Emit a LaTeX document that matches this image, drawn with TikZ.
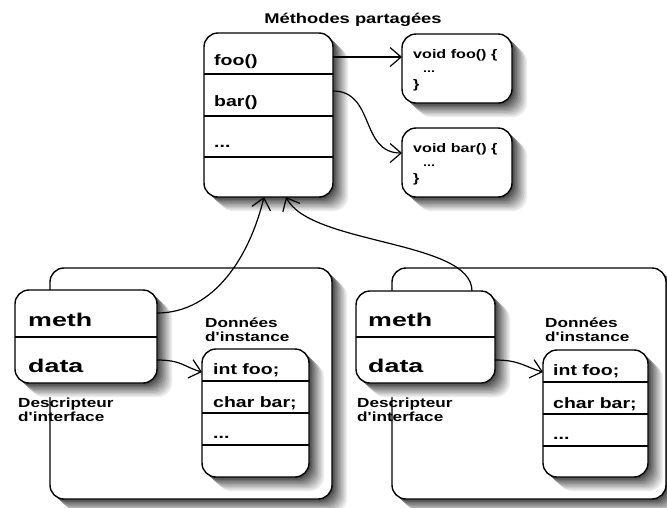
\documentclass[tikz,border=0pt]{standalone}
\usepackage{fontspec}
\setmainfont{Liberation Sans}
\newfontfamily\lbl[FakeStretch=1.3]{Liberation Sans}
\newfontfamily\lblwide[FakeStretch=1.45]{Liberation Sans}
\usetikzlibrary{arrows.meta}

% rounded box with a soft drop shadow: name, left, top, width, height
\newcommand\shadowedbox[5]{%
  \foreach \k [evaluate=\k as \shade using {int((11-\k)*7)}] in {10,9,...,1}
    \fill[black!\shade, rounded corners=14pt]
      ({#2+\k*1.5},{#3+\k*1.4}) rectangle ++(#4,#5);
  \node[box, minimum width=#4pt, minimum height=#5pt] (#1) at (#2,#3) {};}

\begin{document}
\begin{tikzpicture}[x=1pt,y=-1pt,
  box/.style={draw=black, line width=1.4pt, fill=white, rounded corners=14pt,
    inner sep=0pt, outer sep=0pt, anchor=north west},
  divider/.style={line width=1.1pt},
  link/.style={line width=1.2pt, -{Straight Barb[length=11pt,width=19pt,line width=1.2pt]}},
  txt/.style={anchor=base west, inner sep=0pt, font=\lbl\bfseries\fontsize{15}{18}\selectfont},
  big/.style={anchor=base west, inner sep=0pt, font=\lblwide\bfseries\fontsize{18.5}{22}\selectfont},
  caption/.style={anchor=base west, inner sep=0pt, font=\lbl\bfseries\fontsize{13.2}{15}\selectfont},
  code/.style={anchor=base west, inner sep=0pt, font=\lbl\bfseries\fontsize{12.4}{15}\selectfont},
  dots/.style={anchor=base west, inner sep=0pt, font=\lbl\bfseries\fontsize{11}{13}\selectfont}]
\useasboundingbox[fill=white] (0,0) rectangle (667,507);

% title
\node[anchor=base, inner sep=0pt, font=\lbl\bfseries\fontsize{14.1}{17}\selectfont] (title) at (353,23) {Méthodes partagées};

% object containers
\shadowedbox{lc}{50}{268}{282}{231}
\shadowedbox{rc}{392}{268}{274}{231}

% shared method table
\shadowedbox{sh}{204}{33}{129}{164}
\foreach \yy in {74,116,157} \draw[divider] (sh.west |- 0,\yy) -- (sh.east |- 0,\yy);
\node[txt] (shfoo) at (214,65) {foo()};
\node[txt] (shbar) at (214,106) {bar()};
\node[txt] (shdots) at (214,147) {...};

% method bodies
\shadowedbox{fb}{402}{34}{110}{69}
\node[code] (fb1) at (413,58) {void foo() \{};
\node[dots] (fb2) at (423,72) {...};
\node[code] (fb3) at (413,88) {\}};
\shadowedbox{bb}{402}{128}{110}{69}
\node[code] (bb1) at (413,152) {void bar() \{};
\node[dots] (bb2) at (423,166) {...};
\node[code] (bb3) at (413,182) {\}};

% left object
\shadowedbox{ld}{15}{290}{142}{93}
\draw[divider] (ld.west |- 0,337) -- (ld.east |- 0,337);
\node[big] (lmeth) at (28,326) {meth};
\node[big] (ldata) at (28,372) {data};
\node[caption] (ldesc1) at (18,407) {Descripteur};
\node[caption] (ldesc2) at (18,421) {d'interface};
\node[caption] (linst1) at (205,327) {Données};
\node[caption] (linst2) at (205,341) {d'instance};
\shadowedbox{li}{202}{349}{107}{128}
\foreach \yy in {381,413,445} \draw[divider] (li.west |- 0,\yy) -- (li.east |- 0,\yy);
\node[txt] (lifoo) at (213,374) {int foo;};
\node[txt] (libar) at (213,407) {char bar;};
\node[txt] (lidots) at (213,438) {...};

% right object
\shadowedbox{rd}{356}{291}{139}{92}
\draw[divider] (rd.west |- 0,337) -- (rd.east |- 0,337);
\node[big] (rmeth) at (368,326) {meth};
\node[big] (rdata) at (368,372) {data};
\node[caption] (rdesc1) at (357,407) {Descripteur};
\node[caption] (rdesc2) at (357,421) {d'interface};
\node[caption] (rinst1) at (545,327) {Données};
\node[caption] (rinst2) at (545,341) {d'instance};
\shadowedbox{ri}{543}{350}{105}{127}
\foreach \yy in {382,414,446} \draw[divider] (ri.west |- 0,\yy) -- (ri.east |- 0,\yy);
\node[txt] (rifoo) at (553,375) {int foo;};
\node[txt] (ribar) at (553,408) {char bar;};
\node[txt] (ridots) at (553,439) {...};

% connectors
\draw[link] ([yshift=-24pt]sh.north east) -- ([yshift=-23pt]fb.north west);
\draw[link] ([yshift=-58pt]sh.north east) .. controls +(42,0) and +(-42,0) .. ([yshift=-25pt]bb.north west);
\draw[link] ([yshift=-23pt]ld.north east) .. controls +(58,0) and +(-14,58) .. ([xshift=60pt]sh.south west);
\draw[link] ([xshift=116pt]rd.north west) .. controls +(0,-51) and +(24,48) .. ([xshift=82pt]sh.south west);
\draw[link] ([yshift=-70pt]ld.north east) .. controls +(25,0) and +(-18,-5) .. ([yshift=-23pt]li.north west);
\draw[link] ([yshift=-69pt]rd.north east) .. controls +(25,0) and +(-18,-5) .. ([yshift=-22pt]ri.north west);
\end{tikzpicture}
\end{document}
